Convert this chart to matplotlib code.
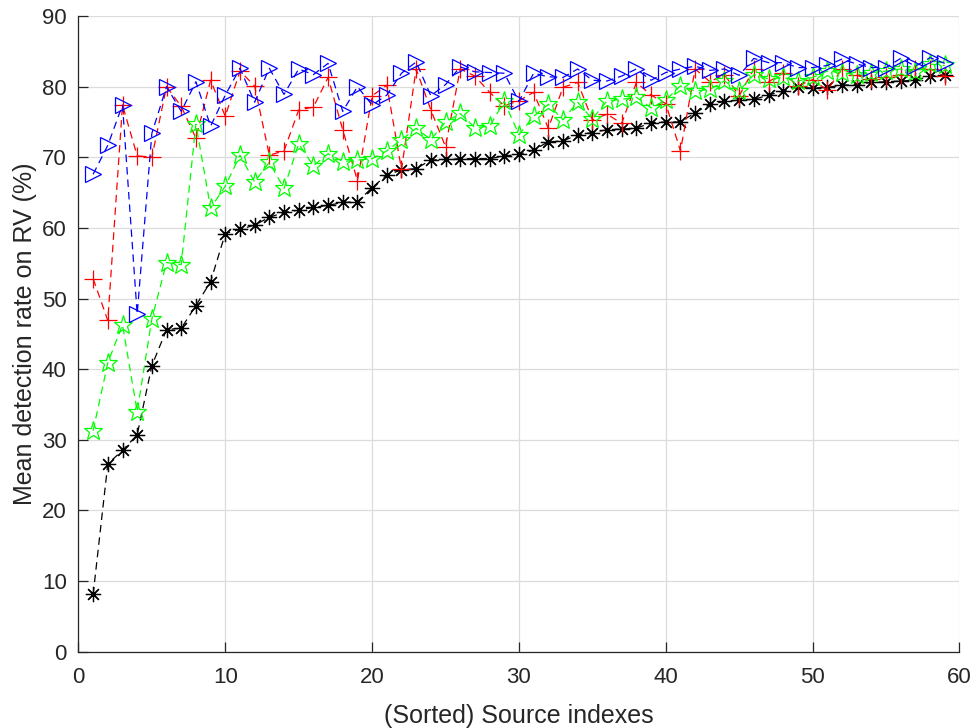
import numpy as np
import matplotlib
matplotlib.use("Agg")
import matplotlib.pyplot as plt

plt.rcParams['font.family'] = ['Liberation Sans', 'DejaVu Sans']

idx = np.arange(1, 60)

# black asterisks
rate_k = [8.1, 26.6, 28.5, 30.7, 40.5, 45.6, 45.8, 49.0, 52.4, 59.2,
          59.8, 60.4, 61.5, 62.2, 62.5, 62.9, 63.2, 63.6, 63.7, 65.7,
          67.5, 68.2, 68.4, 69.6, 69.7, 69.8, 69.8, 69.8, 70.2, 70.4,
          71.0, 72.2, 72.3, 73.2, 73.5, 73.9, 74.0, 74.1, 74.9, 75.0,
          75.0, 76.3, 77.5, 77.9, 78.1, 78.2, 78.8, 79.4, 79.9, 79.8,
          79.9, 80.2, 80.3, 80.6, 80.7, 80.8, 80.9, 81.5, 81.7]

# red plus
rate_r = [52.8, 46.9, 77.4, 70.2, 70.0, 80.0, 77.2, 72.7, 80.9, 75.8,
          82.2, 80.1, 70.3, 70.9, 76.7, 77.1, 81.3, 73.9, 66.7, 78.7,
          80.2, 68.3, 82.5, 76.7, 71.5, 82.5, 81.5, 79.2, 77.3, 78.0,
          79.2, 74.1, 79.9, 80.6, 75.3, 76.1, 74.8, 80.6, 78.8, 77.6,
          70.9, 82.5, 80.7, 81.7, 78.7, 82.5, 80.7, 81.9, 80.1, 81.0,
          79.5, 82.5, 81.6, 81.1, 81.3, 81.7, 82.5, 82.5, 81.5]

# green pentagrams
rate_g = [31.3, 40.9, 46.3, 34.0, 47.1, 55.1, 54.8, 74.7, 62.8, 65.9,
          70.3, 66.5, 69.3, 65.6, 71.9, 68.8, 70.5, 69.4, 69.6, 69.8,
          70.9, 72.5, 74.1, 72.5, 75.0, 76.2, 74.2, 74.4, 77.9, 73.2,
          75.8, 77.5, 75.3, 77.8, 75.4, 78.0, 78.2, 78.5, 77.0, 78.1,
          80.1, 79.4, 79.6, 80.8, 79.4, 81.7, 81.1, 81.3, 80.8, 81.3,
          82.2, 82.0, 81.7, 82.0, 82.2, 82.5, 82.1, 83.2, 83.0]

# blue triangles
rate_b = [67.6, 71.7, 77.4, 47.8, 73.4, 80.0, 76.5, 80.7, 74.4, 78.8,
          82.6, 77.8, 82.6, 78.9, 82.5, 81.7, 83.3, 76.5, 80.0, 77.4,
          78.8, 81.9, 83.5, 78.7, 80.3, 82.8, 82.1, 82.0, 81.9, 77.9,
          81.9, 81.4, 81.3, 82.5, 80.9, 80.8, 81.5, 82.5, 80.9, 82.0,
          82.5, 82.9, 82.3, 82.5, 81.6, 84.0, 83.4, 83.4, 82.7, 82.7,
          83.0, 83.9, 83.2, 82.7, 82.7, 84.0, 82.9, 84.1, 83.3]

fig = plt.figure(figsize=(9.77, 7.28), dpi=100)
ax = fig.add_axes([0.0803, 0.1048, 0.9017, 0.8732])

dash = (0, (6, 4))
ax.plot(idx, rate_k, color='k', linestyle=dash, linewidth=0.9,
        marker=(8, 2, 0), markersize=11, markeredgewidth=0.9)
ax.plot(idx, rate_r, color='r', linestyle=dash, linewidth=0.9,
        marker='+', markersize=13, markeredgewidth=0.9)
ax.plot(idx, rate_g, color=(0, 1, 0), linestyle=dash, linewidth=0.9,
        marker='*', markersize=14, markerfacecolor='none', markeredgewidth=0.9)
ax.plot(idx, rate_b, color='b', linestyle=dash, linewidth=0.9,
        marker='>', markersize=12, markerfacecolor='none', markeredgewidth=0.9)

ax.set_xlim(0, 60)
ax.set_ylim(0, 90)
ax.set_xticks(np.arange(0, 61, 10))
ax.set_yticks(np.arange(0, 91, 10))
ax.grid(True, color='#dcdcdc', linewidth=0.9)
ax.set_axisbelow(True)
for s in ['top', 'right']:
    ax.spines[s].set_visible(False)
for s in ['left', 'bottom']:
    ax.spines[s].set_color('#262626')
    ax.spines[s].set_linewidth(0.9)
ax.tick_params(direction='in', length=7, width=0.9, colors='#262626',
               labelsize=16)
ax.tick_params(axis='x', pad=11)
ax.tick_params(axis='y', pad=8.5)
ax.set_xlabel('(Sorted) Source indexes', fontsize=18, color='#262626', labelpad=11.5)
ax.set_ylabel('Mean detection rate on RV (%)', fontsize=18, color='#262626', labelpad=3.5)

fig.savefig('out.png', dpi=100)
